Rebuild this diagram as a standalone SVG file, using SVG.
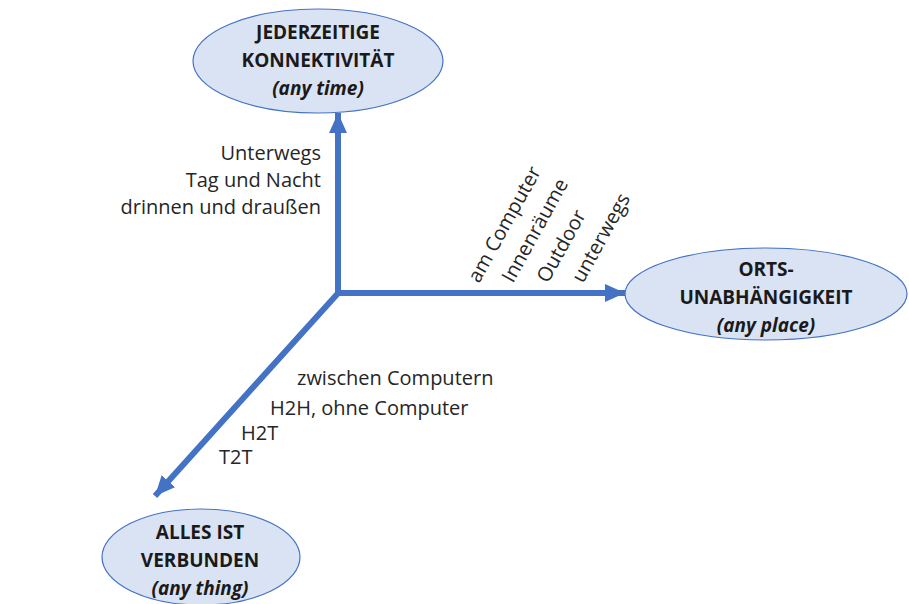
<svg xmlns="http://www.w3.org/2000/svg" width="909" height="604" viewBox="0 0 909 604">
  <style>
    .node { fill: #dae3f3; stroke: #4472c4; stroke-width: 1.2; }
    .title { font-family: "Open Sans", "Liberation Sans", sans-serif; font-weight: bold; font-size: 19px; fill: #1a1a1a; text-anchor: middle; }
    .sub { font-style: italic; }
    .axis { stroke: #4472c4; stroke-width: 6; fill: none; }
    .lbl { font-family: "Open Sans", "Liberation Sans", sans-serif; font-size: 20px; fill: #262626; }
  </style>
  <defs>
    <marker id="head" markerUnits="userSpaceOnUse" markerWidth="22" markerHeight="20" refX="20" refY="10" orient="auto">
      <path d="M0,1 L20,10 L0,19 Z" fill="#4472c4"/>
    </marker>
  </defs>
  <rect width="909" height="604" fill="#ffffff"/>

  <g id="connectors">
    <path class="axis" d="M338,296 L338,113" marker-end="url(#head)"/>
    <path class="axis" d="M335,293 L625,293" marker-end="url(#head)"/>
    <path class="axis" d="M340,291 L155,496" marker-end="url(#head)"/>
  </g>

  <g id="node-time">
    <ellipse class="node" cx="318" cy="61" rx="125" ry="52"/>
    <text class="title" x="318" y="39">JEDERZEITIGE</text>
    <text class="title" x="318" y="67">KONNEKTIVITÄT</text>
    <text class="title sub" x="318" y="95">(any time)</text>
  </g>

  <g id="node-place">
    <ellipse class="node" cx="766" cy="294" rx="141" ry="46"/>
    <text class="title" x="766" y="276">ORTS-</text>
    <text class="title" x="766" y="304">UNABHÄNGIGKEIT</text>
    <text class="title sub" x="766" y="332">(any place)</text>
  </g>

  <g id="node-thing">
    <ellipse class="node" cx="201" cy="557" rx="99" ry="48"/>
    <text class="title" x="200" y="539">ALLES IST</text>
    <text class="title" x="200" y="567">VERBUNDEN</text>
    <text class="title sub" x="200" y="595">(any thing)</text>
  </g>

  <g id="labels-time" class="lbl" text-anchor="end">
    <text x="321" y="160">Unterwegs</text>
    <text x="321" y="187">Tag und Nacht</text>
    <text x="321" y="214">drinnen und draußen</text>
  </g>

  <g id="labels-place" class="lbl">
    <text transform="translate(479,284) rotate(-61)">am Computer</text>
    <text transform="translate(513,284) rotate(-61)">Innenräume</text>
    <text transform="translate(548,284) rotate(-61)">Outdoor</text>
    <text transform="translate(583,284) rotate(-61)">unterwegs</text>
  </g>

  <g id="labels-thing" class="lbl">
    <text x="297" y="385">zwischen Computern</text>
    <text x="270" y="415">H2H, ohne Computer</text>
    <text x="241" y="440">H2T</text>
    <text x="219" y="464">T2T</text>
  </g>
</svg>
